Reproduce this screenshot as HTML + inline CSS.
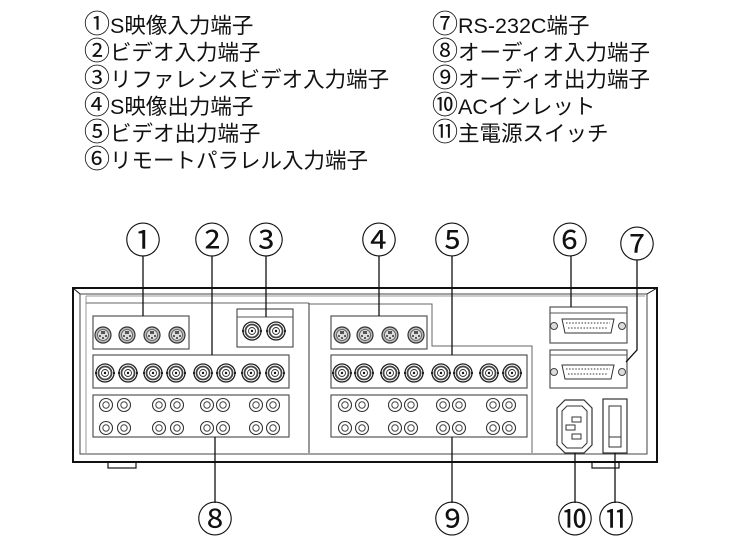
<!DOCTYPE html>
<html><head><meta charset="utf-8"><style>
html,body{margin:0;padding:0;background:#fff;}
svg{display:block;}
.t{font-family:"Liberation Sans","Noto Sans CJK JP",sans-serif;font-size:21.5px;fill:#111;}
.c{font-family:"Noto Sans CJK JP",sans-serif;font-size:26px;}
.n{font-family:"Noto Sans CJK JP",sans-serif;font-size:36px;fill:#111;}
</style></head><body>
<svg width="740" height="555" viewBox="0 0 740 555" xmlns="http://www.w3.org/2000/svg">
<defs>
<g id="sv"><circle r="8" fill="#bbb" stroke="#333" stroke-width="1.2"/><circle r="5.5" fill="#ddd" stroke="#555" stroke-width="0.8"/><rect x="-2" y="-4" width="4" height="3" fill="#555"/><circle cx="-3" cy="1" r="1" fill="#333"/><circle cx="3" cy="1" r="1" fill="#333"/><circle cx="0" cy="3" r="1" fill="#333"/></g>
<g id="bnc"><circle r="9" fill="#fff" stroke="#222" stroke-width="1.3"/><circle r="6.5" fill="none" stroke="#444" stroke-width="1.8"/><circle r="3.5" fill="none" stroke="#333" stroke-width="0.9"/><circle r="1.2" fill="#111"/><rect x="-10" y="-1" width="2" height="2" fill="#222"/><rect x="8" y="-1" width="2" height="2" fill="#222"/></g>
<g id="rca"><circle r="6.5" fill="#fff" stroke="#333" stroke-width="1.1"/><circle r="3.2" fill="none" stroke="#444" stroke-width="1"/></g>
<g id="ds"><path d="M-26,-7 L26,-7 L23,7 L-23,7 Z" fill="#fff" stroke="#333" stroke-width="1"/><line x1="-22" y1="-3" x2="22" y2="-3" stroke="#777" stroke-width="1.6" stroke-dasharray="1.5 1.6"/><line x1="-20" y1="2" x2="20" y2="2" stroke="#777" stroke-width="1.6" stroke-dasharray="1.5 1.6"/><circle cx="-34" r="3.5" fill="#ddd" stroke="#444"/><circle cx="34" r="3.5" fill="#ddd" stroke="#444"/></g>
</defs>

<!-- legend -->
<text class="t" x="84" y="33"><tspan class="c">①</tspan>S映像入力端子</text>
<text class="t" x="84" y="60"><tspan class="c">②</tspan>ビデオ入力端子</text>
<text class="t" x="84" y="87"><tspan class="c">③</tspan>リファレンスビデオ入力端子</text>
<text class="t" x="84" y="114"><tspan class="c">④</tspan>S映像出力端子</text>
<text class="t" x="84" y="141"><tspan class="c">⑤</tspan>ビデオ出力端子</text>
<text class="t" x="84" y="168"><tspan class="c">⑥</tspan>リモートパラレル入力端子</text>
<text class="t" x="432" y="33"><tspan class="c">⑦</tspan>RS-232C端子</text>
<text class="t" x="432" y="60"><tspan class="c">⑧</tspan>オーディオ入力端子</text>
<text class="t" x="432" y="87"><tspan class="c">⑨</tspan>オーディオ出力端子</text>
<text class="t" x="432" y="114"><tspan class="c">⑩</tspan>ACインレット</text>
<text class="t" x="432" y="141"><tspan class="c">⑪</tspan>主電源スイッチ</text>

<!-- chassis -->
<g fill="none" stroke="#111">
<rect x="73" y="288" width="584" height="174" stroke-width="2"/>
<rect x="80" y="294" width="567" height="160" stroke-width="1" stroke="#444"/>
<line x1="73" y1="288" x2="80" y2="294" stroke-width="1"/>
<line x1="657" y1="288" x2="647" y2="294" stroke-width="1"/>
<line x1="86" y1="296" x2="645" y2="296" stroke="#999"/>
<line x1="86" y1="296" x2="86" y2="453" stroke="#999"/>
<line x1="86" y1="303" x2="309" y2="303" stroke="#666"/>
<line x1="309" y1="303" x2="309" y2="453" stroke="#333"/>
<path d="M309,304 H432 V346 H532 V453" stroke="#666"/>
<rect x="108" y="462" width="28" height="6" stroke-width="1.2"/>
<rect x="592" y="462" width="27" height="6" stroke-width="1.2"/>
</g>

<g fill="#fff" stroke="#555" stroke-width="1.2">
<rect x="93" y="316" width="96" height="33"/>
<rect x="237" y="309" width="56" height="38"/>
<rect x="93" y="355" width="196" height="33"/>
<rect x="93" y="395" width="196" height="42"/>
<rect x="331" y="316" width="96" height="33"/>
<rect x="331" y="355" width="196" height="33"/>
<rect x="331" y="395" width="196" height="42"/>
</g>
<line x1="237" y1="317" x2="293" y2="317" stroke="#555"/>
<use href="#sv" x="103" y="335"/><use href="#sv" x="127" y="335"/><use href="#sv" x="152" y="335"/><use href="#sv" x="177" y="335"/>
<use href="#bnc" x="252" y="331"/><use href="#bnc" x="276" y="331"/>
<use href="#bnc" x="105" y="373"/><use href="#bnc" x="128" y="373"/><use href="#bnc" x="153" y="373"/><use href="#bnc" x="176" y="373"/><use href="#bnc" x="203" y="373"/><use href="#bnc" x="226" y="373"/><use href="#bnc" x="251" y="373"/><use href="#bnc" x="275" y="373"/>
<use href="#rca" x="106" y="405"/><use href="#rca" x="124" y="405"/><use href="#rca" x="159" y="405"/><use href="#rca" x="177" y="405"/><use href="#rca" x="207" y="405"/><use href="#rca" x="223" y="405"/><use href="#rca" x="256" y="405"/><use href="#rca" x="273" y="405"/>
<use href="#rca" x="106" y="428"/><use href="#rca" x="124" y="428"/><use href="#rca" x="159" y="428"/><use href="#rca" x="177" y="428"/><use href="#rca" x="207" y="428"/><use href="#rca" x="223" y="428"/><use href="#rca" x="256" y="428"/><use href="#rca" x="273" y="428"/>
<use href="#sv" x="342" y="335"/><use href="#sv" x="365" y="335"/><use href="#sv" x="390" y="335"/><use href="#sv" x="416" y="335"/>
<use href="#bnc" x="342" y="373"/><use href="#bnc" x="364" y="373"/><use href="#bnc" x="390" y="373"/><use href="#bnc" x="414" y="373"/><use href="#bnc" x="441" y="373"/><use href="#bnc" x="463" y="373"/><use href="#bnc" x="489" y="373"/><use href="#bnc" x="512" y="373"/>
<use href="#rca" x="345" y="405"/><use href="#rca" x="362" y="405"/><use href="#rca" x="395" y="405"/><use href="#rca" x="411" y="405"/><use href="#rca" x="443" y="405"/><use href="#rca" x="459" y="405"/><use href="#rca" x="493" y="405"/><use href="#rca" x="509" y="405"/>
<use href="#rca" x="345" y="428"/><use href="#rca" x="362" y="428"/><use href="#rca" x="395" y="428"/><use href="#rca" x="411" y="428"/><use href="#rca" x="443" y="428"/><use href="#rca" x="459" y="428"/><use href="#rca" x="493" y="428"/><use href="#rca" x="509" y="428"/>

<g fill="#fff" stroke="#555" stroke-width="1.2">
<rect x="550" y="307" width="77" height="36"/>
<rect x="550" y="350" width="77" height="38"/>
</g>
<line x1="550" y1="313" x2="627" y2="313" stroke="#555"/>
<line x1="550" y1="355" x2="627" y2="355" stroke="#555"/>
<use href="#ds" x="588" y="326"/>
<use href="#ds" x="588" y="372"/>
<path d="M565,400 H584 L592,408 V445 L584,453 H565 L557,445 V408 Z" fill="#fff" stroke="#333" stroke-width="1.2"/>
<path d="M567,406 H582 L587,411 V443 L582,448 H567 L562,443 V411 Z" fill="none" stroke="#333"/>
<rect x="572" y="417" width="9" height="5" fill="#fff" stroke="#333"/>
<rect x="566" y="425" width="9" height="5" fill="#fff" stroke="#333"/>
<rect x="572" y="434" width="9" height="5" fill="#fff" stroke="#333"/>
<rect x="603" y="399" width="24" height="54" fill="#fff" stroke="#333" stroke-width="1.2"/>
<rect x="609" y="406" width="12" height="41" fill="#fff" stroke="#333"/>
<line x1="609" y1="437" x2="621" y2="437" stroke="#333"/>

<g stroke="#111" stroke-width="1.3" fill="none">
<line x1="143" y1="256" x2="143" y2="316"/>
<line x1="212" y1="256" x2="212" y2="355"/>
<line x1="266" y1="256" x2="266" y2="317"/>
<line x1="379" y1="256" x2="379" y2="316"/>
<line x1="452" y1="256" x2="452" y2="355"/>
<line x1="571" y1="256" x2="571" y2="307"/>
<path d="M637,260 V350 L626,362"/>
<line x1="215" y1="437" x2="215" y2="503"/>
<line x1="452" y1="437" x2="452" y2="503"/>
<line x1="575" y1="453" x2="575" y2="503"/>
<line x1="615" y1="453" x2="615" y2="503"/>
</g>
<g text-anchor="middle">
<text class="n" x="143" y="253">①</text>
<text class="n" x="212" y="253">②</text>
<text class="n" x="266" y="253">③</text>
<text class="n" x="379" y="253">④</text>
<text class="n" x="452" y="253">⑤</text>
<text class="n" x="570" y="253">⑥</text>
<text class="n" x="637" y="257">⑦</text>
<text class="n" x="215" y="532">⑧</text>
<text class="n" x="452" y="532">⑨</text>
<text class="n" x="575" y="532">⑩</text>
<text class="n" x="616" y="532">⑪</text>
</g>
</svg>
</body></html>
